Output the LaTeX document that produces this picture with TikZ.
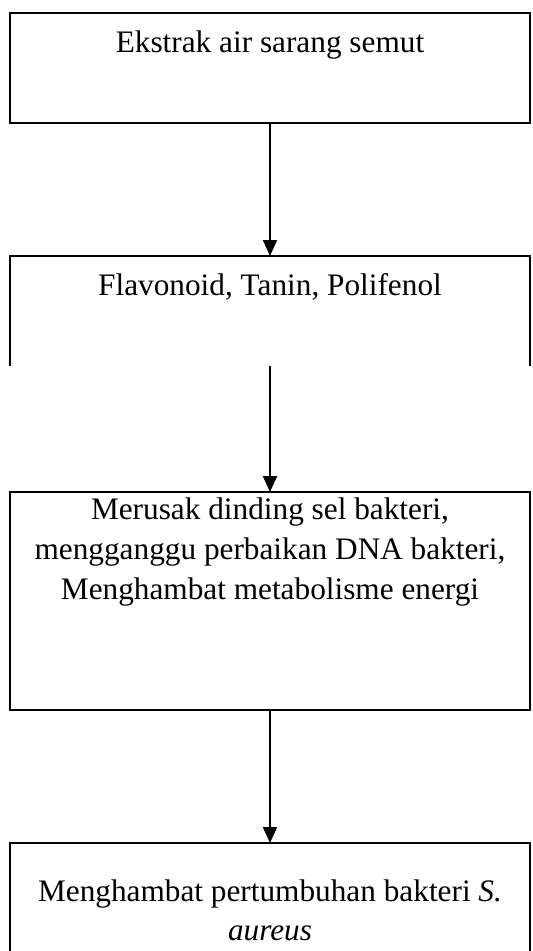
\documentclass[tikz,border=0pt]{standalone}
\usepackage{fontspec}
\setmainfont{Liberation Serif}
\usetikzlibrary{arrows.meta,positioning}

\begin{document}
\begin{tikzpicture}[
  kotak/.style={minimum width=10.4cm, inner sep=0pt, outer sep=0pt},
  teks/.style={font=\fontsize{17.8}{22}\selectfont, anchor=base, inner sep=0pt},
  garis/.style={line width=1.1pt},
  panah/.style={line width=1.1pt, -{Triangle[length=0.32cm,width=0.28cm]}}
]
\useasboundingbox (0,0) rectangle (10.66,-19.02);
\clip (0,0) rectangle (10.66,-19.02);

% --- Kotak 1: ekstrak ---
\node[kotak, draw, garis, minimum height=2.2cm] (ekstrak) at (5.4,-1.36) {};
\node[teks] (t1) at (5.4,-1.04) {Ekstrak air sarang semut};

% --- Kotak 2: senyawa aktif (tanpa garis bawah) ---
\node[kotak, minimum height=2.2cm] (senyawa) at (5.4,-6.22) {};
\draw[garis] (senyawa.south west) -- (senyawa.north west) -- (senyawa.north east) -- (senyawa.south east);
\node[teks] (t2) at (5.4,-5.9) {Flavonoid, Tanin, Polifenol};

% --- Kotak 3: mekanisme ---
\node[kotak, draw, garis, minimum height=4.36cm] (mekanisme) at (5.4,-12.02) {};
\node[teks] (m1) at (5.4,-10.38) {Merusak dinding sel bakteri,};
\node[teks] (m2) at (5.4,-11.18) {mengganggu perbaikan DNA bakteri,};
\node[teks] (m3) at (5.4,-11.98) {Menghambat metabolisme energi};

% --- Kotak 4: hasil ---
\node[kotak, draw, garis, minimum height=2.8cm] (hasil) at (5.4,-18.26) {};
\node[teks] (h1) at (5.4,-18.02) {Menghambat pertumbuhan bakteri \textit{S.}};
\node[teks] (h2) at (5.4,-18.8) {\textit{aureus}};

% panah
\draw[panah] (ekstrak.south) -- (senyawa.north);
\draw[panah] (senyawa.south) -- (mekanisme.north);
\draw[panah] (mekanisme.south) -- (hasil.north);

\end{tikzpicture}
\end{document}
